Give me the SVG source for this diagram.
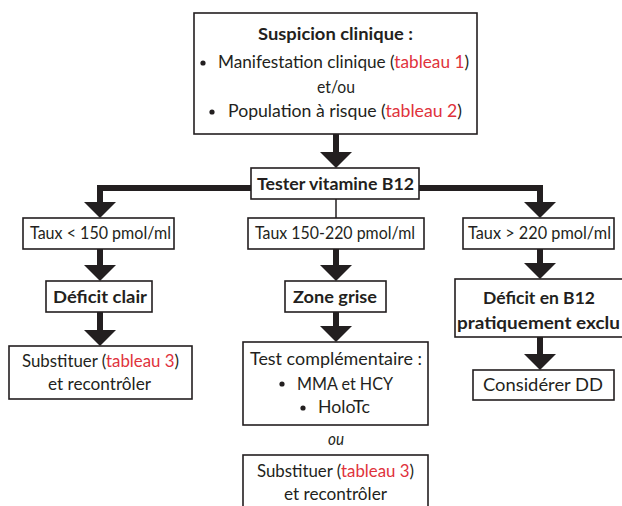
<svg xmlns="http://www.w3.org/2000/svg" xmlns:xlink="http://www.w3.org/1999/xlink" width="622" height="506" viewBox="0 0 622 506">
<style>
.box{fill:#fff;stroke:#231f20;stroke-width:1.6}
.t{font-family:Lato,"Open Sans","Liberation Sans",sans-serif;font-size:17px;fill:#231f20}
.b{font-weight:bold}
.i{font-style:italic}
.r{fill:#e0323c}
.stem{stroke:#231f20;stroke-width:6;fill:none;stroke-linejoin:miter}
.thin{stroke:#231f20;stroke-width:1.5}
.dot{fill:#231f20}
</style>
<defs>
<path id="ah" d="M-16,0 L16,0 L0,16 Z" fill="#231f20"/>
</defs>
<rect width="622" height="506" fill="#fff"/>
<g id="connectors">
<line class="stem" x1="336" y1="134" x2="336" y2="153"/>
<use xlink:href="#ah" x="336" y="152"/>
<path class="stem" d="M100,203 V188 H540 V203"/>
<use xlink:href="#ah" x="100" y="202"/>
<use xlink:href="#ah" x="540" y="202"/>
<line class="thin" x1="336" y1="199" x2="336" y2="218"/>
<line class="stem" x1="100" y1="249" x2="100" y2="266"/>
<use xlink:href="#ah" x="100" y="265"/>
<line class="stem" x1="336" y1="249" x2="336" y2="266"/>
<use xlink:href="#ah" x="336" y="265"/>
<line class="stem" x1="540" y1="249" x2="540" y2="264"/>
<use xlink:href="#ah" x="540" y="263"/>
<line class="stem" x1="100" y1="312" x2="100" y2="331"/>
<use xlink:href="#ah" x="100" y="330"/>
<line class="stem" x1="336" y1="312" x2="336" y2="327"/>
<use xlink:href="#ah" x="336" y="326"/>
<line class="stem" x1="540" y1="337" x2="540" y2="355"/>
<use xlink:href="#ah" x="540" y="354"/>
</g>
<g id="suspicion">
<rect class="box" x="194" y="13" width="283" height="121"/>
<text class="t b" x="258" y="40" textLength="155" lengthAdjust="spacingAndGlyphs">Suspicion clinique :</text>
<circle class="dot" cx="203" cy="63" r="2.6"/>
<text class="t" x="218" y="68" textLength="251" lengthAdjust="spacingAndGlyphs">Manifestation clinique (<tspan class="r">tableau 1</tspan>)</text>
<text class="t" x="317" y="93" textLength="38" lengthAdjust="spacingAndGlyphs">et/ou</text>
<circle class="dot" cx="212" cy="112" r="2.6"/>
<text class="t" x="228" y="117" textLength="234" lengthAdjust="spacingAndGlyphs">Population à risque (<tspan class="r">tableau 2</tspan>)</text>
</g>
<g id="tester">
<rect class="box" x="251" y="168" width="168" height="31"/>
<text class="t b" x="257" y="190" textLength="157" lengthAdjust="spacingAndGlyphs">Tester vitamine B12</text>
</g>
<g id="taux-bas">
<rect class="box" x="23" y="218" width="151" height="31"/>
<text class="t" x="30" y="239" textLength="141" lengthAdjust="spacingAndGlyphs">Taux &lt; 150 pmol/ml</text>
</g>
<g id="taux-moyen">
<rect class="box" x="248" y="218" width="176" height="31"/>
<text class="t" x="255" y="239" textLength="160" lengthAdjust="spacingAndGlyphs">Taux 150-220 pmol/ml</text>
</g>
<g id="taux-haut">
<rect class="box" x="463" y="218" width="151" height="31"/>
<text class="t" x="468" y="239" textLength="143" lengthAdjust="spacingAndGlyphs">Taux &gt; 220 pmol/ml</text>
</g>
<g id="deficit-clair">
<rect class="box" x="46" y="281" width="106" height="31"/>
<text class="t b" x="53" y="303" textLength="94" lengthAdjust="spacingAndGlyphs">Déficit clair</text>
</g>
<g id="zone-grise">
<rect class="box" x="285" y="281" width="101" height="31"/>
<text class="t b" x="293" y="303" textLength="84" lengthAdjust="spacingAndGlyphs">Zone grise</text>
</g>
<g id="deficit-exclu">
<rect class="box" x="455" y="279" width="172" height="58"/>
<text class="t b" x="483" y="304" textLength="112" lengthAdjust="spacingAndGlyphs">Déficit en B12</text>
<text class="t b" x="457" y="329" textLength="163" lengthAdjust="spacingAndGlyphs">pratiquement exclu</text>
</g>
<g id="substituer-gauche">
<rect class="box" x="9" y="346" width="183" height="53"/>
<text class="t" x="22" y="367" textLength="157" lengthAdjust="spacingAndGlyphs">Substituer (<tspan class="r">tableau 3</tspan>)</text>
<text class="t" x="48" y="390" textLength="103" lengthAdjust="spacingAndGlyphs">et recontrôler</text>
</g>
<g id="test-complementaire">
<rect class="box" x="243" y="342" width="185" height="83"/>
<text class="t" x="250" y="365" textLength="172" lengthAdjust="spacingAndGlyphs">Test complémentaire :</text>
<circle class="dot" cx="282" cy="384" r="2.6"/>
<text class="t" x="297" y="390" textLength="96" lengthAdjust="spacingAndGlyphs">MMA et HCY</text>
<circle class="dot" cx="303" cy="408" r="2.6"/>
<text class="t" x="318" y="413" textLength="52" lengthAdjust="spacingAndGlyphs">HoloTc</text>
</g>
<g id="ou">
<text class="t i" x="328" y="445" textLength="16" lengthAdjust="spacingAndGlyphs">ou</text>
</g>
<g id="substituer-milieu">
<rect class="box" x="243" y="455" width="185" height="60"/>
<text class="t" x="257" y="477" textLength="157" lengthAdjust="spacingAndGlyphs">Substituer (<tspan class="r">tableau 3</tspan>)</text>
<text class="t" x="284" y="500" textLength="103" lengthAdjust="spacingAndGlyphs">et recontrôler</text>
</g>
<g id="considerer">
<rect class="box" x="473" y="370" width="141" height="30"/>
<text class="t" x="483" y="391" textLength="120" lengthAdjust="spacingAndGlyphs">Considérer DD</text>
</g>
</svg>
